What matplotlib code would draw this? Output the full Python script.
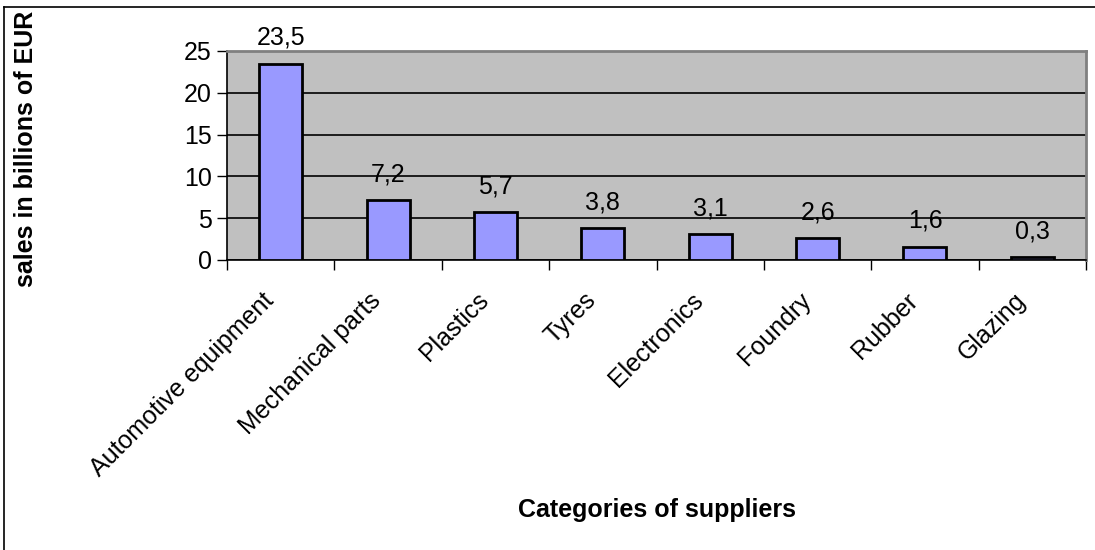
import numpy as np
import matplotlib.pyplot as plt
from matplotlib.lines import Line2D
from matplotlib.transforms import ScaledTranslation

plt.rcParams['font.family'] = ['Liberation Sans', 'DejaVu Sans']

categories = ['Automotive equipment', 'Mechanical parts', 'Plastics', 'Tyres',
              'Electronics', 'Foundry', 'Rubber', 'Glazing']
sales = [23.5, 7.2, 5.7, 3.8, 3.1, 2.6, 1.6, 0.3]
value_labels = ['23,5', '7,2', '5,7', '3,8', '3,1', '2,6', '1,6', '0,3']
y_ticks = [0, 5, 10, 15, 20, 25]

fs = 18

fig = plt.figure(figsize=(10.95, 5.5), dpi=100)
ax = fig.add_axes([227/1095, 1-260/550, (1086-227)/1095, (260-51)/550])

x = np.arange(len(categories))
ax.bar(x, sales, width=0.4, color='#9999FF', edgecolor='black', linewidth=2, zorder=3)

for xi, v, lab in zip(x, sales, value_labels):
    ax.annotate(lab, (xi, v), xytext=(0, 13.5), textcoords='offset points',
                ha='center', va='baseline', fontsize=fs)

ax.set_facecolor('#C0C0C0')
ax.set_xlim(-0.5, len(categories) - 0.5)
ax.set_ylim(0, 25)
ax.set_yticks(y_ticks)
ax.grid(axis='y', color='black', linewidth=1.2, zorder=1)

ax.set_xticks(x)
ax.set_xticklabels(categories, rotation=45, ha='right', rotation_mode='anchor', fontsize=fs)
ax.set_xticks(np.arange(len(categories) + 1) - 0.5, minor=True)
ax.tick_params(axis='x', which='major', length=0, pad=16)
ax.tick_params(axis='x', which='minor', length=7, width=1, direction='out')
ax.tick_params(axis='y', length=7, width=1, labelsize=fs, pad=4)

# shift the slanted category labels a little left/down
shift = ScaledTranslation(-0.19, -0.06, fig.dpi_scale_trans)
for lbl in ax.get_xticklabels():
    lbl.set_transform(lbl.get_transform() + shift)

for s in ['top', 'right']:
    ax.spines[s].set_color('#808080')
    ax.spines[s].set_linewidth(2)
for s in ['left', 'bottom']:
    ax.spines[s].set_color('black')
    ax.spines[s].set_linewidth(1.2)

ax.set_ylabel('sales in billions of EUR', fontsize=fs, fontweight='bold', labelpad=0)
ax.yaxis.set_label_coords((38-227)/859, 0.53)
fig.text(657/1095, 1-510/550, 'Categories of suppliers', ha='center', va='center',
         fontsize=fs, fontweight='bold')

# chart frame lines
fig.add_artist(Line2D([4/1095, 4/1095], [0, 1-7/550], color='black', linewidth=1.2))
fig.add_artist(Line2D([4/1095, 1], [1-7/550, 1-7/550], color='black', linewidth=1.2))

fig.savefig('out.png', dpi=100)
